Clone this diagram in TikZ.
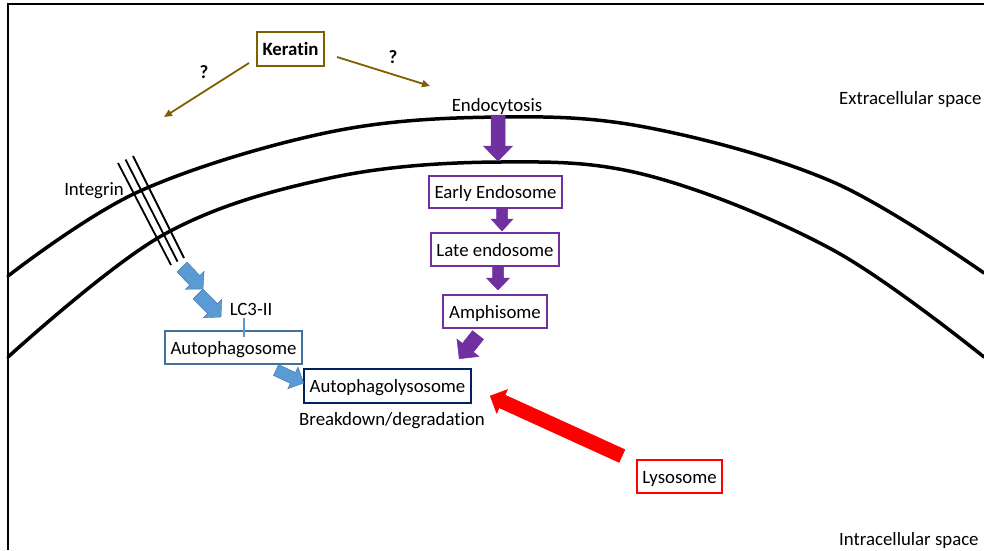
\documentclass[tikz,border=0pt]{standalone}
\usepackage{fontspec}
\setmainfont{Carlito}[Ligatures=NoCommon]
\usetikzlibrary{calc,arrows.meta}
\definecolor{kbrown}{HTML}{7F6000}
\definecolor{kpurple}{HTML}{7030A0}
\definecolor{kblue}{HTML}{5B9BD5}
\definecolor{kblueline}{HTML}{41719C}
\definecolor{knavy}{HTML}{002060}
\definecolor{kred}{HTML}{FF0000}
\newcommand\blockarr[6]{%
  \coordinate (ba-a) at (#1);
  \coordinate (ba-b) at (#2);
  \coordinate (ba-c) at ($(ba-b)!#5!(ba-a)$);
  \filldraw[#6] ($(ba-a)!#3!90:(ba-b)$) -- ($(ba-c)!#3!90:(ba-b)$) -- ($(ba-c)!#4!90:(ba-b)$) -- (ba-b) -- ($(ba-c)!#4!-90:(ba-b)$) -- ($(ba-c)!#3!-90:(ba-b)$) -- ($(ba-a)!#3!-90:(ba-b)$) -- cycle;
}
\tikzset{
  txt/.style={font=\fontsize{18.8}{22}\selectfont, inner sep=0pt},
  lbl/.style={txt, yshift=-2pt},
  boxk/.style={txt, draw=#1, line width=2pt, fill=white, minimum height=33pt, text depth=0pt, text height=13pt},
  membrane/.style={line width=3.5pt, line cap=round},
  karrow/.style={draw=kbrown, line width=1.8pt, -{Triangle[length=8pt,width=7pt]}},
  purplearr/.style={fill=kpurple, draw=kpurple, line width=0.5pt},
  bluearr/.style={fill=kblue, draw=kblueline, line width=0.4pt},
  redarr/.style={fill=kred, draw=kred, line width=0.5pt},
}
\begin{document}
\begin{tikzpicture}[x=1pt,y=-1pt]
\useasboundingbox (0,0) rectangle (984,550);
% frame
\draw[line width=2.5pt] (8,550) -- (8,4) -- (984,4);
% membranes
\draw[membrane] plot[smooth, tension=0.6] coordinates {(8,276) (140,191) (330,132) (500,117) (650,128) (833,182) (984,273)};
\draw[membrane] plot[smooth, tension=0.6] coordinates {(8,357) (163,235) (330,178) (500,162) (650,176) (833,250) (984,357)};
% integrin
\foreach \i in {0,1,2}{
  \coordinate (ig\i a) at ($(118,163)+(\i*7.5,-\i*3.5)$);
  \coordinate (ig\i b) at ($(171,265)+(\i*6.5,-\i*3.5)$);
  \draw[line width=1.8pt] (ig\i a) -- (ig\i b);
}
\node[lbl] (integrin) at (94,189) {Integrin};
% texts
\node[lbl, anchor=west] (extra) at (839,97) {Extracellular space};
\node[lbl, anchor=west] (intra) at (839,538) {Intracellular space};
\node[lbl] (endo) at (497,104) {Endocytosis};
\node[lbl] (lc3) at (251,307) {LC3-II};
\node[lbl] (break) at (392,419) {Breakdown/degradation};
% boxes
\node[boxk=kbrown, minimum width=67pt, minimum height=34pt, font=\fontsize{18.8}{22}\selectfont\bfseries] (keratin) at (290.5,49) {Keratin};
\node[lbl, font=\fontsize{18.8}{22}\selectfont\bfseries] (qL) at (204,70) {?};
\node[lbl, font=\fontsize{18.8}{22}\selectfont\bfseries] (qR) at (393,55) {?};
\node[boxk=kpurple, minimum width=133pt, minimum height=32pt] (early) at (495.5,192) {Early Endosome};
\node[boxk=kpurple, minimum width=128pt] (late) at (495,249.5) {Late endosome};
\node[boxk=kpurple, minimum width=104pt] (amph) at (495,311.5) {Amphisome};
\node[boxk=knavy, line width=2.5pt, minimum width=167pt, minimum height=34pt] (autolys) at (387.5,386) {Autophagolysosome};
\node[boxk=kblueline, minimum width=137pt] (auto) at (233.5,347.5) {Autophagosome};
\node[boxk=kred, minimum width=85pt] (lyso) at (679.5,476.5) {Lysosome};
% keratin arrows
\coordinate (kLs) at (249,63);
\coordinate (kLe) at (164,117);
\coordinate (kRs) at (337,57);
\coordinate (kRe) at (430,86);
\draw[karrow] (kLs) -- (kLe);
\draw[karrow] (kRs) -- (kRe);
% LC3 link
\draw[kblue, line width=1.5pt] ($(lc3.south)+(-7,3)$) -- ($(auto.north)+(10.5,7)$);
% purple arrows
\blockarr{498,115}{$(early.north)+(2.5,-14)$}{7pt}{14.5pt}{15pt}{purplearr}
\blockarr{$(early.south)+(6.5,0)$}{$(late.north)+(7,-1)$}{5.5pt}{11pt}{12pt}{purplearr}
\blockarr{$(late.south)+(3,0)$}{$(amph.north)+(3,-4)$}{5.5pt}{11.5pt}{12pt}{purplearr}
\blockarr{$(amph.south)+(-17,6)$}{$(autolys.north east)+(-13,-9)$}{7pt}{14pt}{14pt}{purplearr}
% blue arrows
\blockarr{182,267}{203,289}{7pt}{13pt}{12pt}{bluearr}
\blockarr{198,294}{221,317}{7pt}{13pt}{12pt}{bluearr}
\blockarr{$(auto.south east)+(-27,5)$}{$(autolys.west)+(1,-3)$}{6pt}{12pt}{12pt}{bluearr}
% red arrow
\blockarr{$(lyso.north west)+(-14,-3)$}{$(autolys.east)+(18,10)$}{7pt}{13pt}{13pt}{redarr}
\end{tikzpicture}
\end{document}
